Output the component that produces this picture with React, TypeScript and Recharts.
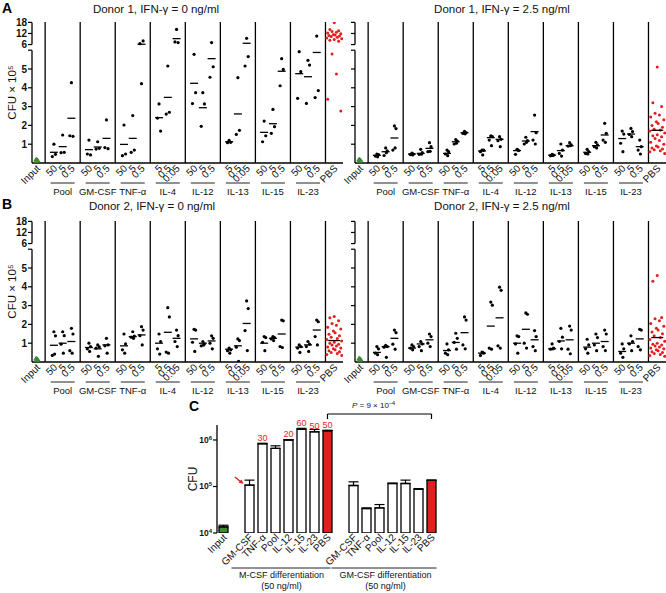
import React from "react";
import {
  ScatterChart,
  Scatter,
  XAxis,
  YAxis,
  ReferenceLine,
  BarChart,
  Bar,
  Cell,
  ErrorBar,
  LabelList
} from "recharts";

const FONT = "'Liberation Sans', Arial, Helvetica, sans-serif";
const RED = "#e41e1c";
const GREEN = "#3c8c34";

// ---- dot plots (panels A and B), CFU x 10^5 ----
const groups = ["Pool", "GM-CSF", "TNF-α", "IL-4", "IL-12", "IL-13", "IL-15", "IL-23"];
const doses = [
  ["50", "5", "0.5"],
  ["50", "5", "0.5"],
  ["50", "5", "0.5"],
  ["5", "0.5", "0.05"],
  ["50", "5", "0.5"],
  ["5", "0.5", "0.05"],
  ["50", "5", "0.5"],
  ["50", "5", "0.5"]
];
const inputCfu = [0.12, 0.16, 0.2, 0.14, 0.18];

// Donor 1, IFN-γ = 0
const d1Ifn0Dots = [
  [1.0, 0.46, 0.34], [1.49, 0.57, 0.55], [4.27, 1.42, 1.45],
  [1.22, 0.43, 0.48], [1.13, 0.78, 0.74], [2.29, 0.76, 0.82],
  [2.02, 0.48, 0.39], [2.52, 0.69, 0.57], [4.22, 7.96, 6.5],
  [3.14, 1.7, 2.39], [5.16, 2.7, 2.6], [14.2, 7.07, 7.43],
  [5.78, 3.74, 3.16], [3.74, 3.14, 1.95], [7.07, 5.12, 4.56],
  [1.2, 1.1, 1.08], [4.54, 1.74, 1.52], [9.4, 5.66, 5.16],
  [2.23, 1.45, 1.13], [2.85, 1.93, 1.58], [5.55, 4.98, 4.11],
  [5.92, 4.86, 3.44], [5.46, 5.21, 3.17], [10.6, 3.85, 3.48]
];
const d1Ifn0Means = [0.57, 0.87, 2.38, 0.71, 0.85, 1.31, 0.99, 1.31, 6.18, 2.41, 3.49, 9.2,
  4.24, 2.94, 5.55, 1.13, 2.61, 6.7, 1.63, 2.09, 4.88, 4.75, 4.59, 5.88];
const d1Ifn0Pbs = [17.8, 14.2, 13.5, 13.0, 12.6, 12.2, 11.9, 11.5, 11.2, 10.9, 10.6, 10.3, 10.0,
  9.6, 9.2, 8.8, 8.3, 7.8, 5.8, 4.73, 3.39, 2.77];

// Donor 1, IFN-γ = 2.5
const d1Ifn25Dots = [
  [0.48, 0.45, 0.37, 0.33], [0.8, 0.64, 0.4, 0.55], [1.97, 1.83, 0.69, 0.8],
  [0.52, 0.48, 0.45, 0.43], [0.73, 0.55, 0.46, 0.47], [1.08, 0.87, 0.6, 0.62],
  [0.69, 0.6, 0.48, 0.39], [1.25, 1.17, 1.01, 1.05], [1.69, 1.62, 1.57, 1.55],
  [0.69, 0.68, 0.6, 0.43], [1.44, 1.4, 1.22, 0.92], [1.4, 1.26, 1.19, 0.87],
  [0.73, 0.66, 0.46, 0.7], [1.37, 1.19, 1.01, 1.1], [2.55, 1.61, 1.22, 1.01],
  [0.46, 0.42, 0.38, 0.4], [1.01, 0.69, 0.51, 0.37], [1.08, 0.96, 0.9, 0.92],
  [0.73, 0.6, 0.5, 0.48], [1.1, 0.96, 0.87, 0.8], [2.11, 1.58, 1.22, 1.1],
  [1.7, 1.54, 1.05, 0.6], [1.84, 1.67, 1.52, 1.4], [1.22, 0.87, 0.69, 0.48]
];
const d1Ifn25Means = [0.41, 0.6, 1.33, 0.48, 0.51, 0.78, 0.51, 1.13, 1.61, 0.64, 1.35, 1.26,
  0.66, 1.17, 1.67, 0.42, 0.66, 0.92, 0.57, 0.92, 1.49, 1.3, 1.54, 0.87];
const d1Ifn25Pbs = [5.1, 3.2, 3.0, 2.65, 2.55, 2.45, 2.3, 2.2, 2.1, 2.0, 1.9, 1.8, 1.75, 1.7, 1.6,
  1.5, 1.45, 1.4, 1.3, 1.2, 1.1, 1.0, 0.9, 0.85, 0.8, 0.75, 0.7, 0.65, 0.6, 0.5];

// Donor 2, IFN-γ = 0
const d2Ifn0Dots = [
  [1.61, 1.39, 0.35, 0.42], [1.61, 1.4, 0.95, 0.47], [1.79, 1.49, 0.6, 0.47],
  [1.0, 0.82, 0.7, 0.56], [0.91, 0.8, 0.74, 0.3], [1.26, 0.91, 0.86, 0.47],
  [1.49, 0.96, 0.65, 0.47], [1.61, 1.38, 1.32, 1.26], [1.88, 1.7, 1.4, 0.91],
  [1.49, 1.09, 0.7, 0.42], [2.89, 2.4, 0.53, 0.47], [1.7, 1.4, 1.09, 0.82],
  [1.74, 1.7, 1.05, 0.56], [1.09, 0.96, 0.86, 0.9], [1.39, 1.26, 1.0, 0.7],
  [0.74, 0.65, 0.6, 0.47], [1.23, 1.14, 0.79, 0.04], [3.25, 2.84, 1.67, 0.61],
  [1.35, 1.3, 1.05, 0.6], [1.35, 1.3, 1.23, 1.14], [2.23, 2.19, 0.82, 0.77],
  [0.91, 0.82, 0.74, 0.51], [1.09, 0.95, 0.82, 0.56], [2.23, 2.14, 1.35, 0.91]
];
const d2Ifn0Means = [0.89, 1.0, 1.09, 0.77, 0.7, 0.91, 0.86, 1.35, 1.44, 1.0, 1.58, 1.26,
  1.23, 1.0, 1.12, 0.68, 0.86, 2.05, 1.0, 1.26, 1.49, 0.79, 0.91, 1.7];
const d2Ifn0Pbs = [2.42, 2.35, 2.2, 2.05, 1.95, 1.85, 1.75, 1.65, 1.55, 1.48, 1.4, 1.32, 1.25, 1.2,
  1.12, 1.05, 1.0, 0.95, 0.9, 0.85, 0.8, 0.75, 0.7, 0.65, 0.6, 0.55, 0.5, 0.45, 0.4, 0.35];

// Donor 2, IFN-γ = 2.5
const d2Ifn25Dots = [
  [0.82, 0.7, 0.47, 0.39], [0.88, 0.82, 0.79, 0.25], [1.7, 1.56, 0.95, 0.68],
  [0.91, 0.82, 0.74, 0.65], [1.09, 0.96, 0.82, 0.6], [1.49, 1.35, 1.0, 0.82],
  [0.96, 0.65, 0.47, 0.39], [1.53, 1.26, 1.04, 0.68], [2.4, 2.23, 0.91, 0.7],
  [0.53, 0.47, 0.35, 0.5], [3.19, 3.02, 0.74, 0.68], [3.98, 3.81, 0.86, 0.74],
  [1.39, 1.35, 0.96, 0.47], [2.61, 2.54, 1.0, 0.74], [1.67, 1.35, 0.82, 0.6],
  [0.96, 0.74, 0.68, 0.7], [1.79, 1.32, 1.09, 0.7], [1.91, 1.7, 0.68, 0.44],
  [1.21, 0.91, 0.7, 0.47], [1.49, 1.3, 0.91, 0.6], [1.7, 1.49, 0.82, 0.61],
  [0.96, 0.7, 0.47, 0.25], [1.39, 1.09, 0.96, 0.6], [1.74, 1.7, 0.82, 0.65]
];
const d2Ifn25Means = [0.51, 0.82, 1.26, 0.74, 0.96, 1.18, 0.61, 1.04, 1.56, 0.47, 1.91, 2.35,
  1.0, 1.74, 1.18, 0.7, 1.12, 1.18, 0.79, 1.0, 1.09, 0.56, 1.0, 1.23];
const d2Ifn25Pbs = [4.6, 4.3, 2.37, 2.3, 2.2, 2.05, 1.9, 1.8, 1.7, 1.6, 1.5, 1.4, 1.3, 1.2, 1.1,
  1.0, 0.95, 0.9, 0.85, 0.8, 0.75, 0.7, 0.65, 0.6, 0.55, 0.5, 0.45, 0.4, 0.35, 0.3];

// ---- panel C, CFU (log) ----
const cCats = ["Input", "", "GM-CSF", "TNF-α", "Pool", "IL-12", "IL-15", "IL-23", "PBS",
  "", "GM-CSF", "TNF-α", "Pool", "IL-12", "IL-15", "IL-23", "PBS"];
const cCfu = [13500, null, 107000, 830000, 660000, 1000000, 1690000, 1500000, 1580000,
  null, 105000, 33600, 34600, 116000, 116000, 87000, 135000];
const cCfuTop = [14700, null, 137000, 850000, 750000, 1020000, 1780000, 1690000, 1620000,
  null, 126000, 34600, 40900, 118000, 137000, 90000, 138000];
const cNotes = ["", "", "", "30", "", "20", "60", "50", "50", "", "", "", "", "", "", "", ""];

// layout of the dot plots: one cytokine group = 4 x-units
const SEP0 = 1.5;
const INPUT_X = 0.55;
const PBS_X = 34.5;
const X_MAX = 35.5;
const JIT = [0, 0.18, -0.18, 0.08, -0.08];
const PBS_JIT = [0, -0.5, 0.5, -0.25, 0.25, -0.75, 0.75, -0.1, 0.1, -0.6, 0.6, -0.35, 0.35, -0.85, 0.85];

// broken y axis: 0-6 linear, 6-18 squeezed into the top strip
const up = (v: number) => 6.3 + (v - 6) * 0.0983;
const brk = (v: number) => (v <= 6 ? v : up(v));
const yTickVals = [1, 2, 3, 4, 5, 6, up(6), up(12), up(18)];
const yTickText = ["1", "2", "3", "4", "5", "", "6", "12", "18"];

const doseX = (i: number) => SEP0 + 4 * Math.floor(i / 3) + (i % 3) + 1;
const xTickVals = [INPUT_X, ...doses.flatMap((_, i) => [0, 1, 2].map((d) => doseX(i * 3 + d))), PBS_X];
const xTickText = ["Input", ...doses.flat(), "PBS"];
const seps = groups.map((_, g) => SEP0 + 4 * g).concat(SEP0 + 32);

const Dot = (p: any) => <circle cx={p.cx} cy={p.cy} r={1.6} fill="#000" />;
const RedDot = (p: any) => <circle cx={p.cx} cy={p.cy} r={1.5} fill={RED} />;
const Tri = (p: any) => (
  <path
    d={`M${p.cx},${p.cy - 2.6}L${p.cx + 2.8},${p.cy + 2}L${p.cx - 2.8},${p.cy + 2}Z`}
    fill={GREEN}
  />
);
const MeanBar = (p: any) => {
  const w = p.payload && p.payload.w ? p.payload.w : 4;
  return <line x1={p.cx - w} x2={p.cx + w} y1={p.cy} y2={p.cy} stroke="#000" strokeWidth={1.3} />;
};

function DoseTick(props: any) {
  const { x, y, index } = props;
  const inner = index - 1;
  const mid = inner >= 0 && inner < 24 && inner % 3 === 1;
  const ax = x + 4;
  const ay = y + 6;
  return (
    <g>
      <text x={ax} y={ay} transform={`rotate(-45 ${ax} ${ay})`} textAnchor="end"
        fontSize={10} fontFamily={FONT} fill="#111">
        {xTickText[index]}
      </text>
      {mid && (
        <g>
          <line x1={x - 12} x2={x + 12} y1={y + 20} y2={y + 20} stroke="#222" strokeWidth={1} />
          <text x={x} y={y + 32} textAnchor="middle" fontSize={9.5} fontFamily={FONT} fill="#111">
            {groups[(inner - 1) / 3]}
          </text>
        </g>
      )}
    </g>
  );
}

function CfuTick(props: any) {
  const { x, y, payload, show } = props;
  if (!show) return <g />;
  const i = yTickVals.findIndex((v) => Math.abs(v - payload.value) < 1e-6);
  return (
    <text x={x} y={y} dy={3.5} textAnchor="end" fontSize={10} fontWeight="bold" fontFamily={FONT} fill="#111">
      {yTickText[i]}
    </text>
  );
}

interface PanelProps {
  dots: number[][];
  means: number[];
  pbs: number[];
  pbsMean?: number;
  showLabels: boolean;
}

function DotPanel({ dots, means, pbs, pbsMean, showLabels }: PanelProps) {
  const dotData: any[] = [];
  const meanData: any[] = [];
  dots.forEach((row, i) => {
    row.forEach((v, j) => dotData.push({ x: doseX(i) + JIT[j % JIT.length], y: brk(v) }));
    meanData.push({ x: doseX(i), y: brk(means[i]), w: 4 });
  });
  if (pbsMean !== undefined) meanData.push({ x: PBS_X, y: brk(pbsMean), w: 6 });
  const pbsData = pbs.map((v, j) => ({ x: PBS_X + PBS_JIT[j % PBS_JIT.length], y: brk(v) }));
  const inputData = inputCfu.map((v, j) => ({ x: INPUT_X + JIT[j] * 0.5, y: v }));

  return (
    <ScatterChart width={343} height={200} margin={{ top: 22, right: 0, bottom: 0, left: 0 }}>
      <XAxis type="number" dataKey="x" domain={[0, X_MAX]} ticks={xTickVals} interval={0}
        tick={<DoseTick />} tickLine={false} tickSize={0} tickMargin={0} height={37}
        axisLine={{ stroke: "#000", strokeWidth: 1.3 }} allowDataOverflow />
      <YAxis type="number" dataKey="y" domain={[0, 7.5]} ticks={yTickVals} interval={0}
        tick={<CfuTick show={showLabels} />} width={32} axisLine={false}
        tickLine={{ stroke: "#000", strokeWidth: 1.2 }} tickSize={4} tickMargin={1} allowDataOverflow
        label={showLabels ? {
          value: "CFU × 10⁵", angle: -90, position: "insideLeft", offset: 12,
          style: { textAnchor: "middle", fontSize: 11.5, fontFamily: FONT, fill: "#111" }
        } : undefined} />
      <ReferenceLine segment={[{ x: 0, y: 0 }, { x: 0, y: 6 }]} stroke="#000" strokeWidth={1.3} ifOverflow="visible" />
      <ReferenceLine segment={[{ x: 0, y: up(6) }, { x: 0, y: up(18) }]} stroke="#000" strokeWidth={1.3} ifOverflow="visible" />
      {seps.map((s) => (
        <ReferenceLine key={s} x={s} stroke="#000" strokeWidth={1.3} />
      ))}
      <Scatter data={inputData} shape={Tri} isAnimationActive={false} />
      <Scatter data={dotData} shape={Dot} isAnimationActive={false} />
      <Scatter data={pbsData} shape={RedDot} isAnimationActive={false} />
      <Scatter data={meanData} shape={MeanBar} isAnimationActive={false} />
    </ScatterChart>
  );
}

function CatTick(props: any) {
  const { x, y, index } = props;
  const ax = x + 4;
  const ay = y + 5;
  return (
    <g>
      <text x={ax} y={ay} transform={`rotate(-45 ${ax} ${ay})`} textAnchor="end"
        fontSize={10} fontFamily={FONT} fill="#111">
        {cCats[index]}
      </text>
      {(index === 2 || index === 10) && (
        <g fontFamily={FONT} fontSize={9} fill="#111" textAnchor="middle">
          <line x1={index === 2 ? x - 18 : x - 22} x2={index === 2 ? x + 81 : x + 83} y1={y + 35} y2={y + 35}
            stroke="#222" strokeWidth={1} />
          <text x={x + 32} y={y + 45}>{index === 2 ? "M-CSF differentiation" : "GM-CSF differentiation"}</text>
          <text x={x + 32} y={y + 56}>(50 ng/ml)</text>
        </g>
      )}
    </g>
  );
}

function PowTick(props: any) {
  const { x, y, payload } = props;
  const exp = Math.round(Math.log10(payload.value));
  return (
    <text x={x} y={y} dy={3} textAnchor="end" fontSize={8.5} fontWeight="bold" fontFamily={FONT} fill="#111">
      10<tspan dy={-3} fontSize={6}>{exp}</tspan>
    </text>
  );
}

function PLabel(props: any) {
  const vb = props.viewBox || {};
  const cx = vb.x + (vb.width || 0) / 2 - 6;
  return (
    <text x={cx} y={vb.y - 6} textAnchor="middle" fontSize={8} fontFamily={FONT} fill="#111">
      <tspan fontStyle="italic">P</tspan> = 9 × 10<tspan dy={-3} fontSize={5.5}>–4</tspan>
    </text>
  );
}

function PanelC() {
  const data = cCats.map((name, i) => ({
    key: String(i),
    name,
    cfu: cCfu[i],
    err: cCfu[i] == null ? null : [0, (cCfuTop[i] as number) - (cCfu[i] as number)],
    note: cNotes[i]
  }));
  return (
    <BarChart width={300} height={198} data={data} margin={{ top: 30, right: 32, bottom: 0, left: 0 }}>
      <XAxis dataKey="key" tick={<CatTick />} tickLine={false} axisLine={false} height={60}
        interval={0} tickSize={0} tickMargin={0} />
      <YAxis scale="log" domain={[10000, 2100000]} allowDataOverflow ticks={[10000, 100000, 1000000]}
        interval={0} tick={<PowTick />} width={47} axisLine={{ stroke: "#000", strokeWidth: 1.3 }}
        tickLine={{ stroke: "#000", strokeWidth: 1.2 }} tickSize={4} tickMargin={1}
        label={{
          value: "CFU", angle: -90, position: "insideLeft", offset: 23,
          style: { textAnchor: "middle", fontSize: 12, fontFamily: FONT, fill: "#111" }
        }} />
      <Bar dataKey="cfu" barSize={9} stroke="#000" strokeWidth={1.3} isAnimationActive={false}>
        {data.map((d) => (
          <Cell key={d.key} fill={d.name === "Input" ? GREEN : d.name === "PBS" ? RED : "#fff"} />
        ))}
        <ErrorBar dataKey="err" width={5} stroke="#000" strokeWidth={1.2} direction="y" />
        <LabelList dataKey="note" position="top" offset={3} fill={RED} fontSize={9} fontFamily={FONT} />
      </Bar>
      <ReferenceLine segment={[{ x: "8", y: 3620000 }, { x: "16", y: 3620000 }]} stroke="#000"
        strokeWidth={1.2} ifOverflow="visible" label={<PLabel />} />
      <ReferenceLine segment={[{ x: "8", y: 3620000 }, { x: "8", y: 2830000 }]} stroke="#000"
        strokeWidth={1.2} ifOverflow="visible" />
      <ReferenceLine segment={[{ x: "16", y: 3620000 }, { x: "16", y: 2830000 }]} stroke="#000"
        strokeWidth={1.2} ifOverflow="visible" />
    </BarChart>
  );
}

const abs = (left: number, top: number): React.CSSProperties => ({ position: "absolute", left, top });
const title: React.CSSProperties = {
  position: "absolute", width: 220, textAlign: "center", fontSize: 11.5, fontFamily: FONT, color: "#111"
};
const letter: React.CSSProperties = { position: "absolute", fontSize: 14, fontWeight: "bold", fontFamily: FONT };

export default function App() {
  return (
    <div style={{ position: "absolute", left: 0, top: 0, width: 666, height: 593, background: "#fff", overflow: "hidden" }}>
      <div style={abs(0, 0)}>
        <DotPanel dots={d1Ifn0Dots} means={d1Ifn0Means} pbs={d1Ifn0Pbs} showLabels />
      </div>
      <div style={abs(323, 0)}>
        <DotPanel dots={d1Ifn25Dots} means={d1Ifn25Means} pbs={d1Ifn25Pbs} pbsMean={1.74} showLabels={false} />
      </div>
      <div style={abs(0, 199)}>
        <DotPanel dots={d2Ifn0Dots} means={d2Ifn0Means} pbs={d2Ifn0Pbs} pbsMean={1.14} showLabels />
      </div>
      <div style={abs(323, 199)}>
        <DotPanel dots={d2Ifn25Dots} means={d2Ifn25Means} pbs={d2Ifn25Pbs} pbsMean={1.3} showLabels={false} />
      </div>
      <div style={abs(170, 395)}>
        <PanelC />
      </div>
      <svg width={666} height={593} style={{ position: "absolute", left: 0, top: 0, pointerEvents: "none" }}>
        <line x1={235} y1={477} x2={241} y2={482} stroke={RED} strokeWidth={1.4} />
        <path d="M243.5,484 L238.5,482.5 L241.5,479.5 Z" fill={RED} />
      </svg>
      <div style={{ ...title, left: 46, top: 3 }}>Donor 1, IFN-γ = 0 ng/ml</div>
      <div style={{ ...title, left: 392, top: 3 }}>Donor 1, IFN-γ = 2.5 ng/ml</div>
      <div style={{ ...title, left: 42, top: 200 }}>Donor 2, IFN-γ = 0 ng/ml</div>
      <div style={{ ...title, left: 392, top: 200 }}>Donor 2, IFN-γ = 2.5 ng/ml</div>
      <div style={{ ...letter, left: 2, top: 0 }}>A</div>
      <div style={{ ...letter, left: 2, top: 196 }}>B</div>
      <div style={{ ...letter, left: 189, top: 398 }}>C</div>
    </div>
  );
}
